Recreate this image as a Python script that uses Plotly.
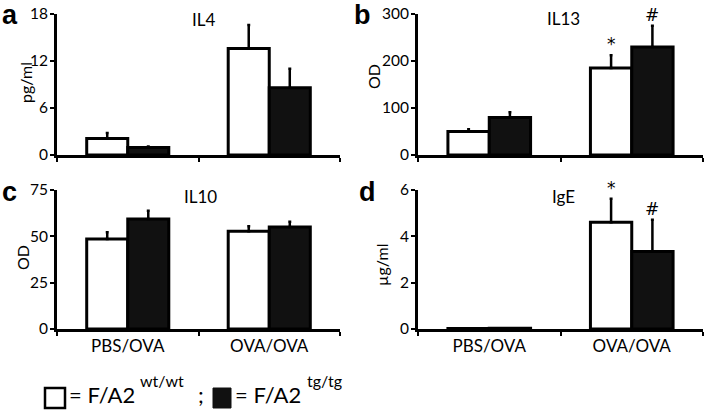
import plotly.graph_objects as go

# ---------------- data ----------------
groups = ["PBS/OVA", "OVA/OVA"]

il4_wt = [2.1, 13.6]
il4_wt_err = [0.7, 3.0]
il4_tg = [0.95, 8.6]
il4_tg_err = [0.12, 2.4]

il13_wt = [50, 185]
il13_wt_err = [5, 27]
il13_tg = [80, 230]
il13_tg_err = [11, 45]

il10_wt = [48.6, 52.7]
il10_wt_err = [3.6, 2.7]
il10_tg = [59.4, 55.0]
il10_tg_err = [4.4, 2.9]

ige_wt = [0.02, 4.61]
ige_wt_err = [0.0, 1.01]
ige_tg = [0.03, 3.35]
ige_tg_err = [0.0, 1.37]

panels = [
    dict(name="IL4", letter="a", unit="pg/ml", wt=il4_wt, wte=il4_wt_err, tg=il4_tg, tge=il4_tg_err,
         rng=[0, 18], ticks=[0, 6, 12, 18], sig_wt=None, sig_tg=None),
    dict(name="IL13", letter="b", unit="OD", wt=il13_wt, wte=il13_wt_err, tg=il13_tg, tge=il13_tg_err,
         rng=[0, 300], ticks=[0, 100, 200, 300], sig_wt="*", sig_tg="#"),
    dict(name="IL10", letter="c", unit="OD", wt=il10_wt, wte=il10_wt_err, tg=il10_tg, tge=il10_tg_err,
         rng=[0, 75], ticks=[0, 25, 50, 75], sig_wt=None, sig_tg=None),
    dict(name="IgE", letter="d", unit="µg/ml", wt=ige_wt, wte=ige_wt_err, tg=ige_tg, tge=ige_tg_err,
         rng=[0, 6], ticks=[0, 2, 4, 6], sig_wt="*", sig_tg="#"),
]

W, H = 706, 410
FONT = "Lato"
xdom = [[57 / W, 340 / W], [418 / W, 703 / W]]
ydom = [[(H - 155) / H, (H - 14) / H], [(H - 329) / H, (H - 190) / H]]

fig = go.Figure()
annotations = []
shapes = []

title_pos = [(203, 19), (563, 18), (200, 196), (563, 196)]
letter_pos = [(0, 15), (352, 15), (0, 192), (357, 192)]
ytitle_pos = [(26, 83), (374, 77), (22, 258), (381, 265)]

for i, p in enumerate(panels):
    col = i % 2
    row = i // 2
    sfx = "" if i == 0 else str(i + 1)
    xa, ya = "x" + sfx, "y" + sfx
    err_style = dict(type="data", symmetric=False, color="black", thickness=2.5, width=1.5)
    fig.add_trace(go.Bar(
        x=groups, y=p["wt"], xaxis=xa, yaxis=ya, offsetgroup="wt",
        marker=dict(color="white", line=dict(color="black", width=3)),
        error_y=dict(array=p["wte"], arrayminus=[0] * len(groups), **err_style),
        showlegend=False))
    fig.add_trace(go.Bar(
        x=groups, y=p["tg"], xaxis=xa, yaxis=ya, offsetgroup="tg",
        marker=dict(color="#111111", line=dict(color="black", width=3)),
        error_y=dict(array=p["tge"], arrayminus=[0] * len(groups), **err_style),
        showlegend=False))

    axkw = dict(domain=xdom[col], anchor=ya, type="category", showline=True, linecolor="black",
                linewidth=3, ticks="outside", tickson="boundaries", ticklen=4, tickwidth=2,
                tickcolor="black", showgrid=False, zeroline=False, showticklabels=(row == 1),
                tickfont=dict(family=FONT, size=17, color="black"), range=[-0.5, 1.5],
                automargin=False)
    aykw = dict(domain=ydom[row], anchor=xa, range=p["rng"], tickvals=p["ticks"], showline=True,
                linecolor="black", linewidth=3, ticks="outside", ticklen=4, tickwidth=2,
                tickcolor="black", showgrid=False, zeroline=False, automargin=False,
                ticklabelstandoff=-1,
                tickfont=dict(family=FONT, size=15.5, color="black"))
    fig.update_layout(**{"xaxis" + sfx: axkw, "yaxis" + sfx: aykw})

    # panel title
    tx, ty = title_pos[i]
    annotations.append(dict(text=p["name"], xref="paper", yref="paper", x=tx / W, y=(H - ty) / H,
                            xanchor="center", yanchor="middle", showarrow=False,
                            font=dict(family=FONT, size=17, color="black")))
    # panel letter
    lx, ly = letter_pos[i]
    annotations.append(dict(text="<b>" + p["letter"] + "</b>", xref="paper", yref="paper", x=lx / W,
                            y=(H - ly) / H, xanchor="left", yanchor="middle", showarrow=False,
                            font=dict(family="Liberation Sans", size=27, color="black")))
    # y-axis title
    ux, uy = ytitle_pos[i]
    annotations.append(dict(text=p["unit"], xref="paper", yref="paper", x=ux / W,
                            y=(H - uy) / H, textangle=-90, xanchor="center",
                            yanchor="middle", showarrow=False,
                            font=dict(family=FONT, size=16, color="black")))
    # significance marks
    for key, ek, sig, shift in (("wt", "wte", p["sig_wt"], -20.5), ("tg", "tge", p["sig_tg"], 20.5)):
        if sig:
            annotations.append(dict(text=sig, xref=xa, yref=ya, x=1, y=p[key][1] + p[ek][1],
                                    xshift=shift, yanchor="bottom", yshift=-1, showarrow=False,
                                    font=dict(family="DejaVu Sans", size=17, color="black")))

# legend (drawn manually)
shapes.append(dict(type="rect", xref="paper", yref="paper", x0=45 / W, x1=65 / W,
                   y0=(H - 408) / H, y1=(H - 388) / H, line=dict(color="black", width=2.5),
                   fillcolor="white"))
shapes.append(dict(type="rect", xref="paper", yref="paper", x0=213 / W, x1=231 / W,
                   y0=(H - 408) / H, y1=(H - 388) / H, line=dict(color="#111111", width=1),
                   fillcolor="#111111"))
legend_txt = [("= F/A2", 67, 22), ("wt/wt", 138, 16), (";", 196, 22),
              ("= F/A2", 233, 22), ("tg/tg", 305, 16)]
for t, x, s in legend_txt:
    big = s > 18
    annotations.append(dict(text=t, xref="paper", yref="paper", x=x / W,
                            y=0 if big else (H - 380) / H,
                            xanchor="left", yanchor="bottom" if big else "middle", showarrow=False,
                            font=dict(family=FONT, size=s, color="black")))

fig.update_layout(width=W, height=H, autosize=False, margin=dict(l=0, r=0, t=0, b=0),
                  paper_bgcolor="white", plot_bgcolor="white", barmode="group", bargap=0.42,
                  bargroupgap=0, annotations=annotations, shapes=shapes, showlegend=False)

fig.write_html("out.html", config={"displayModeBar": False},
               post_script="document.body.style.margin='0';document.body.style.overflow='hidden';")
